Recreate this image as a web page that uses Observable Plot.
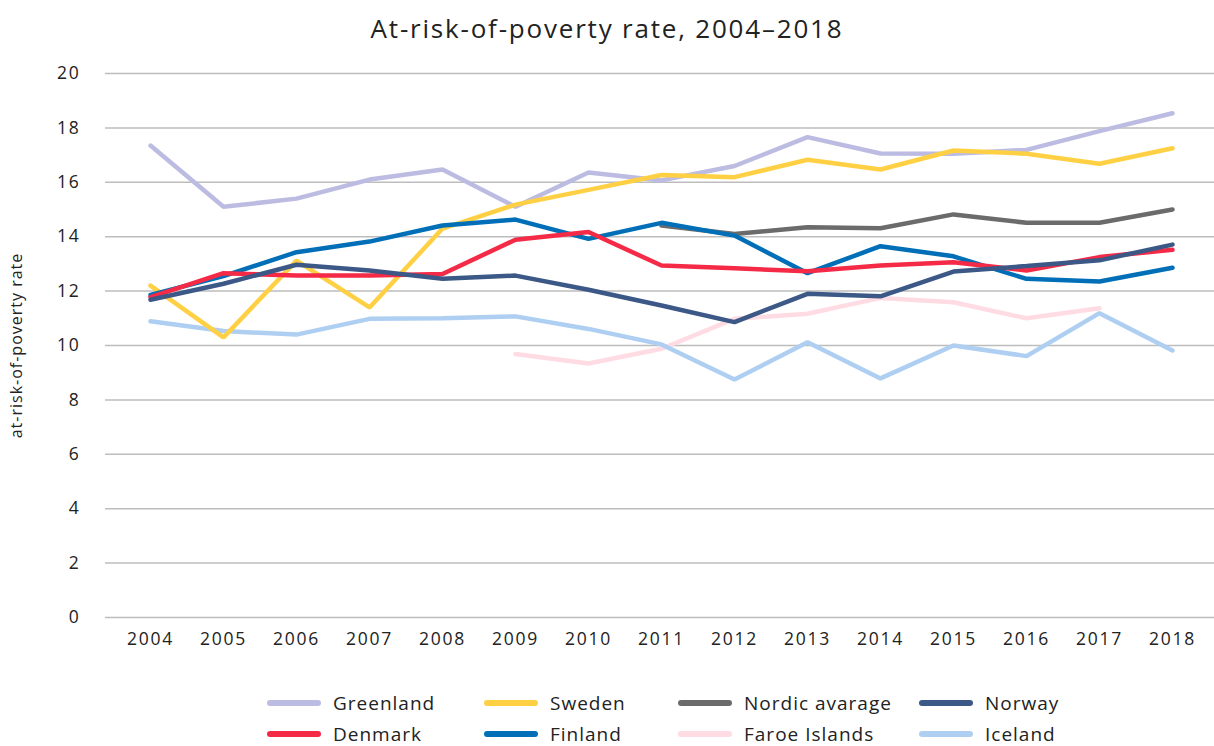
<!DOCTYPE html>
<html>
<head>
<meta charset="utf-8">
<script src="https://cdn.jsdelivr.net/npm/d3@7"></script>
<script src="https://cdn.jsdelivr.net/npm/@observablehq/plot@0.6"></script>
<style>
  body { margin: 0; background: #fff; font-family: "Open Sans", Lato, sans-serif; color: #222; }
  #wrap { width: 1214px; height: 746px; position: relative; overflow: hidden; }
  #title { height: 50px; text-align: center; font-size: 26px; letter-spacing: 1.8px; line-height: 36px; padding-top: 10px; box-sizing: border-box; color: #222; }
  #legend { position: absolute; left: 0; top: 0; width: 1214px; font-size: 19px; letter-spacing: 1px; color: #222; }
  .item { position: absolute; display: flex; align-items: center; height: 22px; line-height: 22px; }
  .sw { width: 54px; height: 6px; border-radius: 3px; margin-right: 12px; }
  svg g[aria-label="x-axis tick label"] text, svg g[aria-label="y-axis tick label"] text { font-size: 17.5px; letter-spacing: 1.8px; }
  svg g[aria-label="y-axis label"] text { font-size: 16px; letter-spacing: 1px; }
</style>
</head>
<body>
<div id="wrap">
  <div id="title">At-risk-of-poverty rate, 2004–2018</div>
  <div id="chart"></div>
  <div id="legend"></div>
</div>
<script>
const years = [2004,2005,2006,2007,2008,2009,2010,2011,2012,2013,2014,2015,2016,2017,2018];
const seriesNames = ["Greenland","Sweden","Nordic avarage","Norway","Denmark","Finland","Faroe Islands","Iceland"];
const seriesColors = ["#bcbce2","#ffd044","#6b6b6b","#3b5886","#f42a46","#006fb7","#ffdbe3","#aecff1"];
const yTicks = [0,2,4,6,8,10,12,14,16,18,20];

const greenland = [17.35,15.1,15.4,16.1,16.47,15.1,16.36,16.07,16.6,17.66,17.06,17.05,17.19,17.88,18.54];
const sweden    = [12.2,10.3,13.12,11.4,14.3,15.18,15.72,16.27,16.19,16.83,16.47,17.17,17.05,16.68,17.25];
const nordicAvg = [null,null,null,null,null,null,null,14.41,14.1,14.35,14.31,14.82,14.51,14.51,15.0];
const norway    = [11.68,12.27,12.97,12.76,12.45,12.57,12.05,11.47,10.86,11.9,11.81,12.72,12.92,13.13,13.71];
const denmark   = [11.78,12.66,12.57,12.57,12.63,13.89,14.17,12.94,12.84,12.73,12.94,13.06,12.76,13.25,13.52];
const finland   = [11.86,12.55,13.43,13.82,14.41,14.63,13.92,14.51,14.04,12.66,13.65,13.28,12.45,12.35,12.86];
const faroe     = [null,null,null,null,null,9.69,9.34,9.88,10.98,11.17,11.75,11.59,11.0,11.37,null];
const iceland   = [10.89,10.53,10.4,10.98,11.0,11.07,10.61,10.04,8.75,10.12,8.79,10.0,9.61,11.19,9.82];

const seriesValues = [greenland, sweden, nordicAvg, norway, denmark, finland, faroe, iceland];

const data = [];
seriesNames.forEach((name, i) => {
  years.forEach((yr, j) => {
    const v = seriesValues[i][j];
    if (v != null) data.push({series: name, year: String(yr), value: v});
  });
});

const drawOrder = ["Greenland","Faroe Islands","Iceland","Sweden","Nordic avarage","Finland","Denmark","Norway"];

const chart = Plot.plot({
  width: 1214,
  height: 610,
  marginTop: 23,
  marginBottom: 43,
  marginLeft: 108,
  marginRight: 0,
  style: {fontFamily: "'Open Sans', Lato, sans-serif", fontSize: "17px", color: "#222", background: "#fff"},
  x: {type: "point", domain: years.map(String), padding: 0.5},
  y: {domain: [0, 20]},
  color: {domain: seriesNames, range: seriesColors},
  marks: [
    Plot.ruleY(yTicks, {stroke: "#bdbdbd", strokeWidth: 1.5, insetLeft: -3}),
    ...drawOrder.map(name => Plot.line(data.filter(d => d.series === name), {
      x: "year", y: "value", stroke: "series", strokeWidth: 4.5, strokeLinejoin: "miter", strokeLinecap: "round"
    })),
    Plot.axisY({ticks: yTicks, tickSize: 0, tickPadding: 28, label: "at-risk-of-poverty rate", labelAnchor: "center", labelArrow: "none", labelOffset: 98}),
    Plot.axisX({tickSize: 0, tickPadding: 15, label: null})
  ]
});
document.getElementById("chart").appendChild(chart);

const legendX = [267, 484, 678, 919];
const legendCY = [703, 734];
const legend = document.getElementById("legend");
seriesNames.forEach((name, i) => {
  const col = i % 4, row = Math.floor(i / 4);
  const item = document.createElement("div");
  item.className = "item";
  item.style.left = legendX[col] + "px";
  item.style.top = (legendCY[row] - 11) + "px";
  const sw = document.createElement("div");
  sw.className = "sw";
  sw.style.background = seriesColors[i];
  const lab = document.createElement("span");
  lab.textContent = name;
  item.appendChild(sw);
  item.appendChild(lab);
  legend.appendChild(item);
});
</script>
</body>
</html>
